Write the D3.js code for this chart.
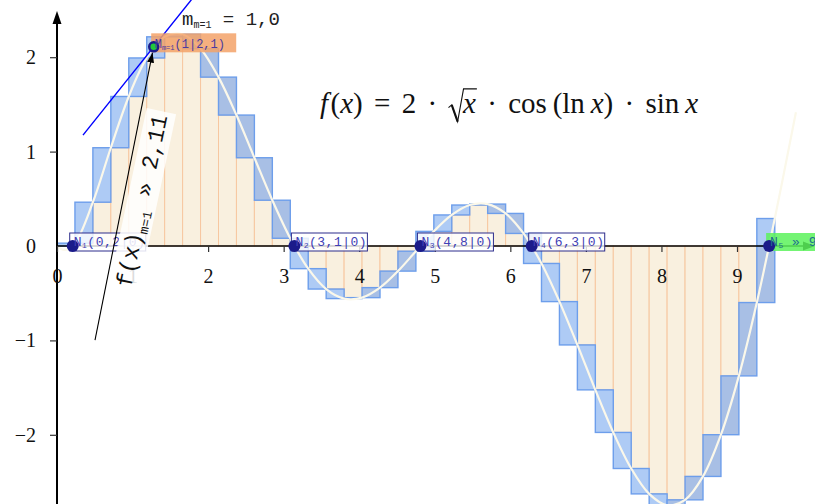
<!DOCTYPE html>
<html>
<head>
<meta charset="utf-8">
<script src="https://cdn.jsdelivr.net/npm/d3@7"></script>
<style>
  body { margin: 0; background: #fff; }
  svg { display: block; }
</style>
</head>
<body>
<script>
let width = 815, height = 504

// partition of the left / right sums
let a = 0, b = 9.5, n = 40
// f at the partition edges
let edgeValues = [0, 0.030, 0.464, 1.041, 1.584, 1.992, 2.216, 2.243, 2.090, 1.789,
  1.387, 0.935, 0.485, 0.082, -0.240, -0.456, -0.557, -0.547, -0.441, -0.266,
  -0.055, 0.155, 0.329, 0.434, 0.444, 0.345, 0.133, -0.185, -0.589, -1.048,
  -1.524, -1.975, -2.357, -2.626, -2.746, -2.689, -2.441, -1.999, -1.376, -0.599, 0.291]

// the white graph of f
let curveX = [0, 0.1, 0.2375, 0.475, 0.7125, 0.95, 1.1875, 1.425, 1.6625, 1.9, 2.1375,
  2.375, 2.6125, 2.85, 3.0875, 3.325, 3.5625, 3.8, 4.0375, 4.275, 4.5125, 4.75, 4.9875,
  5.225, 5.4625, 5.7, 5.9375, 6.175, 6.4125, 6.65, 6.8875, 7.125, 7.3625, 7.6, 7.8375,
  8.075, 8.3125, 8.55, 8.7875, 9.025, 9.2625, 9.5, 9.7375, 9.78]
let curveY = [0, -0.042, 0.030, 0.464, 1.041, 1.584, 1.992, 2.216, 2.243, 2.090, 1.789,
  1.387, 0.935, 0.485, 0.082, -0.240, -0.456, -0.557, -0.547, -0.441, -0.266, -0.055, 0.155,
  0.329, 0.434, 0.444, 0.345, 0.133, -0.185, -0.589, -1.048, -1.524, -1.975, -2.357, -2.626,
  -2.746, -2.689, -2.441, -1.999, -1.376, -0.599, 0.291, 1.245, 1.417]

let rootX = [0.208, 3.142, 4.810, 6.283, 9.425]
let rootText = ["(0,2|0)", "(3,1|0)", "(4,8|0)", "(6,3|0)", " » 9,42"]

// point with slope 1 and its tangent
let mX = 1.28, mY = 2.11, mSlope = 1.0
let tangentX = [0.344, 2.4]
let arrowFrom = [0.503, -0.996]

let xTicks = [0, 1, 2, 3, 4, 5, 6, 7, 8, 9]
let yTicks = [-2, -1, 0, 1, 2]

let x = d3.scaleLinear().domain([0, 9]).range([57, 737])
let y = d3.scaleLinear().domain([0, 2]).range([246, 57.2])

let svg = d3.select("body").append("svg")
  .attr("width", width).attr("height", height)
  .style("font-family", "'Liberation Serif', serif")

// ---- bars
let step = (b - a) / n
let bars = []
for (let i = 0; i < n; i++) {
  let x0 = a + i*step, x1 = x0 + step
  let l = edgeValues[i], r = edgeValues[i+1]
  if (l * r >= 0) {
    let small = Math.abs(l) < Math.abs(r) ? l : r
    let big = Math.abs(l) < Math.abs(r) ? r : l
    if (small != 0) bars.push({x0: x0, x1: x1, v0: 0, v1: small, kind: "both"})
    bars.push({x0: x0, x1: x1, v0: small, v1: big, kind: Math.abs(l) > Math.abs(r) ? "left" : "right"})
  } else {
    bars.push({x0: x0, x1: x1, v0: 0, v1: l, kind: "left"})
    bars.push({x0: x0, x1: x1, v0: 0, v1: r, kind: "right"})
  }
}
let fills = {both: "#f9f0df", left: "#a8bfe5", right: "#aecbf5"}
let strokes = {both: "#f7c7a0", left: "#6d9eeb", right: "#6d9eeb"}
bars.sort((p, q) => (p.kind == "both" ? 0 : 1) - (q.kind == "both" ? 0 : 1))

svg.append("g").selectAll("rect")
  .data(bars)
  .join("rect")
  .attr("x", d => x(d.x0))
  .attr("width", d => x(d.x1) - x(d.x0))
  .attr("y", d => y(Math.max(d.v0, d.v1)))
  .attr("height", d => Math.abs(y(d.v0) - y(d.v1)))
  .attr("fill", d => fills[d.kind])
  .attr("stroke", d => strokes[d.kind])
  .attr("stroke-width", d => d.kind == "both" ? 1 : 1.4)

// ---- graph
let line = d3.line().x(d => x(d[0])).y(d => y(d[1])).curve(d3.curveCatmullRom)
svg.append("path")
  .datum(curveX.map((v, i) => [v, curveY[i]]))
  .attr("d", line)
  .attr("fill", "none")
  .attr("stroke", "#fbf8ea")
  .attr("stroke-width", 2.2)

// ---- axes
let axes = svg.append("g")
axes.append("line").attr("x1", x(0)).attr("x2", 812).attr("y1", y(0)).attr("y2", y(0))
  .attr("stroke", "#000").attr("stroke-width", 1.6)
axes.append("path").attr("d", `M815,${y(0)} L803,${y(0)-4.5} L803,${y(0)+4.5} Z`).attr("fill", "#000")
axes.append("line").attr("x1", x(0)).attr("x2", x(0)).attr("y1", 20).attr("y2", height)
  .attr("stroke", "#000").attr("stroke-width", 2)
axes.append("path").attr("d", `M${x(0)},11 L${x(0)-4.5},24 L${x(0)+4.5},24 Z`).attr("fill", "#000")

let xAxis = axes.append("g").attr("transform", `translate(0,${y(0)})`)
  .call(d3.axisBottom(x).tickValues(xTicks).tickSize(6).tickPadding(17).tickFormat(d3.format("d")))
let yAxis = axes.append("g").attr("transform", `translate(${x(0)},0)`)
  .call(d3.axisLeft(y).tickValues(yTicks).tickSize(7).tickPadding(14).tickFormat(d3.format("d")))
axes.selectAll(".domain").remove()
axes.selectAll(".tick line").attr("stroke", "#333").attr("stroke-width", 1.2)
axes.selectAll(".tick text").attr("font-family", "'Liberation Serif', serif")
  .attr("font-size", 20).attr("fill", "#111")
yAxis.select(".tick:nth-child(3) line").remove()

// ---- tangent with slope 1
svg.append("line")
  .attr("x1", x(tangentX[0])).attr("y1", y(mY + (tangentX[0] - mX) * mSlope))
  .attr("x2", x(tangentX[1])).attr("y2", y(mY + (tangentX[1] - mX) * mSlope))
  .attr("stroke", "#0000ff").attr("stroke-width", 1.4)

// ---- roots
let mono = "'Liberation Mono', 'DejaVu Sans Mono', monospace"
let roots = svg.append("g").selectAll("g")
  .data(rootX)
  .join("g")
  .attr("transform", d => `translate(${x(d)},${y(0)})`)
roots.append("rect")
  .attr("x", -3).attr("y", -13).attr("width", 76).attr("height", 18)
  .attr("fill", (d, i) => i == 4 ? "#5cf25c" : "#fff")
  .attr("fill-opacity", (d, i) => i == 4 ? 0.85 : 0.8)
  .attr("stroke", (d, i) => i == 4 ? "none" : "#2d2d8c")
  .attr("stroke-width", 1)
roots.append("circle").attr("r", 6).attr("fill", "#1b1b8a")
let rootLabel = roots.append("text")
  .attr("x", 1).attr("y", 0)
  .attr("font-family", mono).attr("font-size", 13)
  .attr("letter-spacing", 0.5)
  .attr("fill", (d, i) => i == 4 ? "#1f6e8f" : "#4040b4")
rootLabel.append("tspan").text("N")
rootLabel.append("tspan").attr("font-size", 8).attr("dy", 2).text((d, i) => i + 1)
rootLabel.append("tspan").attr("dy", -2).text((d, i) => rootText[i])

// ---- rotated value label along the arrow
let tag = svg.append("g").attr("transform", "translate(131,288) rotate(-78)")
let tagBox = tag.append("rect").attr("fill", "#fff").attr("fill-opacity", 0.85)
let tagText = tag.append("text").attr("font-family", mono).attr("font-size", 23).attr("fill", "#111")
tagText.append("tspan").text("f(x)")
tagText.append("tspan").attr("font-size", 13).attr("dy", 5).text("m=1")
tagText.append("tspan").attr("dy", -5).text(" » 2,11")
let tl = tagText.node().getComputedTextLength()
tagBox.attr("x", -4).attr("y", -22).attr("width", tl + 8).attr("height", 30)

let defs = svg.append("defs")
defs.append("marker").attr("id", "head")
  .attr("viewBox", "0 -5 10 10").attr("refX", 10).attr("refY", 0)
  .attr("markerWidth", 10).attr("markerHeight", 10).attr("markerUnits", "userSpaceOnUse")
  .attr("orient", "auto")
  .append("path").attr("d", "M0,-3.5L10,0L0,3.5Z").attr("fill", "#000")

let ax0 = x(arrowFrom[0]), ay0 = y(arrowFrom[1]), ax1 = x(mX), ay1 = y(mY)
let alen = Math.hypot(ax1 - ax0, ay1 - ay0)
svg.append("line")
  .attr("x1", ax0).attr("y1", ay0)
  .attr("x2", ax1 - (ax1 - ax0) / alen * 6).attr("y2", ay1 - (ay1 - ay0) / alen * 6)
  .attr("stroke", "#000").attr("stroke-width", 1.1)
  .attr("marker-end", "url(#head)")

// ---- point M
let mg = svg.append("g").attr("transform", `translate(${x(mX)},${y(mY)})`)
mg.append("rect").attr("x", -2.5).attr("y", -13.5).attr("width", 85).attr("height", 19)
  .attr("fill", "#f3a269").attr("fill-opacity", 0.85)
mg.append("circle").attr("r", 4.5).attr("fill", "#22c83a").attr("stroke", "#1b1b8a").attr("stroke-width", 2.5)
let mLabel = mg.append("text").attr("x", 1).attr("y", 1)
  .attr("font-family", mono).attr("font-size", 12).attr("fill", "#4a3aa0")
mLabel.append("tspan").text("M")
mLabel.append("tspan").attr("font-size", 7).attr("dy", 2).text("m=1")
mLabel.append("tspan").attr("dy", -2).text("(1|2,1)")

// slope text
let sText = svg.append("text").attr("x", 182).attr("y", 25)
  .attr("font-family", mono).attr("font-size", 19).attr("fill", "#222")
sText.append("tspan").text("m")
sText.append("tspan").attr("font-size", 10).attr("dy", 3).text("m=1")
sText.append("tspan").attr("dy", -3).text(" = 1,0")

// ---- formula, the radical sign is drawn as a path over a blank
let fs = 29, k = fs / 27
let parts = [["f", true], ["\u200a(", false], ["x", true], [")", false], [" = 2 · ", false],
  ["\u2002", false], ["x", true], [" · cos\u2009(ln\u2009", false], ["x", true],
  [") · sin\u2009", false], ["x", true]]
let formula = svg.append("text").attr("x", 320).attr("y", 113)
  .attr("font-size", fs).attr("fill", "#111")
formula.selectAll("tspan").data(parts).join("tspan")
  .text(d => d[0])
  .attr("font-style", d => d[1] ? "italic" : null)
let fnode = formula.node()
let fullText = parts.map(d => d[0]).join("")
let spaces = fullText.split(" ").length - 1
formula.attr("word-spacing", Math.max(0, (378 - fnode.getComputedTextLength()) / spaces))
let radIdx = fullText.indexOf("\u2002")
let rad = fnode.getExtentOfChar(radIdx), xUnder = fnode.getExtentOfChar(radIdx + 1)
let r0 = rad.x, bl = 113
svg.append("path")
  .attr("d", `M${r0},${bl-5*k} L${r0+3*k},${bl-7.5*k} L${r0+8.5*k},${bl+8*k} L${r0+14*k},${bl-22.5*k} L${xUnder.x + xUnder.width + 1},${bl-22.5*k}`)
  .attr("fill", "none").attr("stroke", "#111").attr("stroke-width", 1.1)
svg.append("line")
  .attr("x1", r0+3*k).attr("y1", bl-7.5*k).attr("x2", r0+8.5*k).attr("y2", bl+8*k)
  .attr("stroke", "#111").attr("stroke-width", 2.1)
</script>
</body>
</html>
